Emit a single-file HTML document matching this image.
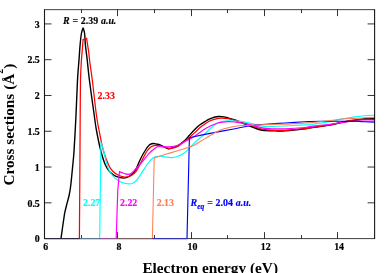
<!DOCTYPE html>
<html><head><meta charset="utf-8"><style>
html,body{margin:0;padding:0;background:#fff;}
body{width:389px;height:273px;overflow:hidden;}
svg{display:block;will-change:transform;font-family:"Liberation Serif",serif;font-weight:bold;}
.tk{font-size:9.9px;fill:#000;stroke:#000;stroke-width:0.2px;}
.lb{font-size:9.9px;word-spacing:0.35px;stroke-width:0.15px;}
.ax{font-size:15.3px;fill:#000;}
</style></head><body>
<svg width="389" height="273" viewBox="0 0 389 273">
<rect width="389" height="273" fill="#fff"/>
<path d="M61.00 238.70 L62.60 227.00 L64.60 213.40 C64.93 212.00 65.83 208.07 66.60 205.00 C67.37 201.93 68.50 198.33 69.20 195.00 C69.90 191.67 70.25 189.50 70.80 185.00 C71.35 180.50 71.95 173.83 72.50 168.00 C73.05 162.17 73.52 158.83 74.10 150.00 C74.68 141.17 75.43 126.67 76.00 115.00 C76.57 103.33 77.00 89.17 77.50 80.00 C78.00 70.83 78.57 65.83 79.00 60.00 C79.43 54.17 79.70 49.42 80.10 45.00 C80.50 40.58 80.90 36.37 81.40 33.50 C81.90 30.63 82.82 28.75 83.10 27.80 C83.35 28.75 84.22 30.63 84.60 33.50 C84.98 36.37 85.00 40.92 85.40 45.00 C85.80 49.08 86.33 52.17 87.00 58.00 C87.67 63.83 88.20 70.50 89.40 80.00 C90.60 89.50 93.03 106.67 94.20 115.00 C95.37 123.33 95.33 124.17 96.40 130.00 C97.47 135.83 99.10 144.17 100.60 150.00 C102.10 155.83 103.83 161.33 105.40 165.00 C106.97 168.67 108.23 170.12 110.00 172.00 C111.77 173.88 113.68 175.28 116.00 176.30 C118.32 177.32 121.73 178.07 123.90 178.10 C126.07 178.13 127.20 177.60 129.00 176.50 C130.80 175.40 132.78 174.42 134.70 171.50 C136.62 168.58 138.80 162.42 140.50 159.00 C142.20 155.58 143.43 153.32 144.90 151.00 C146.37 148.68 147.95 146.35 149.30 145.10 C150.65 143.85 151.72 143.65 153.00 143.50 C154.28 143.35 155.83 143.98 157.00 144.20 C158.17 144.42 158.20 144.07 160.00 144.80 C161.80 145.53 165.80 148.07 167.80 148.60 C169.80 149.13 170.32 148.50 172.00 148.00 C173.68 147.50 175.68 146.93 177.90 145.60 C180.12 144.27 183.38 141.72 185.30 140.00 C187.22 138.28 187.78 137.08 189.40 135.30 C191.02 133.52 193.28 131.02 195.00 129.30 C196.72 127.58 197.87 126.38 199.70 125.00 C201.53 123.62 204.12 122.12 206.00 121.00 C207.88 119.88 208.90 119.05 211.00 118.30 C213.10 117.55 216.27 116.70 218.60 116.50 C220.93 116.30 223.45 116.88 225.00 117.10 C226.55 117.32 226.23 117.32 227.90 117.80 C229.57 118.28 232.87 119.23 235.00 120.00 C237.13 120.77 237.60 121.15 240.70 122.40 C243.80 123.65 250.38 126.27 253.60 127.50 C256.82 128.73 258.10 129.30 260.00 129.80 C261.90 130.30 262.43 130.32 265.00 130.50 C267.57 130.68 272.07 130.85 275.40 130.90 C278.73 130.95 280.07 131.15 285.00 130.80 C289.93 130.45 300.83 129.28 305.00 128.80 C309.17 128.32 305.83 128.53 310.00 127.90 C314.17 127.27 325.00 125.85 330.00 125.00 C335.00 124.15 335.83 123.60 340.00 122.80 C344.17 122.00 350.83 120.87 355.00 120.20 C359.17 119.53 361.73 119.10 365.00 118.80 C368.27 118.50 373.00 118.47 374.60 118.40" fill="none" stroke="#000" stroke-width="1.4" stroke-linejoin="miter" stroke-miterlimit="3"/>
<path d="M79.40 238.70 L80.00 150.00 C80.03 144.17 80.12 126.67 80.20 115.00 C80.28 103.33 80.32 88.83 80.50 80.00 C80.68 71.17 81.03 66.67 81.30 62.00 C81.57 57.33 81.97 53.67 82.10 52.00 L83.10 39.50 L86.60 38.40 L88.70 52.00 C88.88 53.67 89.20 57.33 89.80 62.00 C90.40 66.67 91.20 71.17 92.30 80.00 C93.40 88.83 95.28 106.67 96.40 115.00 C97.52 123.33 97.87 124.17 99.00 130.00 C100.13 135.83 101.60 144.17 103.20 150.00 C104.80 155.83 106.97 161.42 108.60 165.00 C110.23 168.58 111.27 169.75 113.00 171.50 C114.73 173.25 116.97 174.57 119.00 175.50 C121.03 176.43 123.28 177.05 125.20 177.10 C127.12 177.15 128.68 176.73 130.50 175.80 C132.32 174.87 134.07 174.30 136.10 171.50 C138.13 168.70 140.87 162.42 142.70 159.00 C144.53 155.58 145.63 153.07 147.10 151.00 C148.57 148.93 150.12 147.55 151.50 146.60 C152.88 145.65 153.98 145.43 155.40 145.30 C156.82 145.17 157.73 145.30 160.00 145.80 C162.27 146.30 166.67 147.97 169.00 148.30 C171.33 148.63 172.33 148.25 174.00 147.80 C175.67 147.35 176.92 146.90 179.00 145.60 C181.08 144.30 184.58 141.52 186.50 140.00 C188.42 138.48 189.08 137.77 190.50 136.50 C191.92 135.23 193.30 133.98 195.00 132.40 C196.70 130.82 198.87 128.53 200.70 127.00 C202.53 125.47 204.28 124.30 206.00 123.20 C207.72 122.10 209.33 121.13 211.00 120.40 C212.67 119.67 214.37 119.17 216.00 118.80 C217.63 118.43 218.82 118.23 220.80 118.20 C222.78 118.17 225.53 118.27 227.90 118.60 C230.27 118.93 232.87 119.65 235.00 120.20 C237.13 120.75 237.60 120.90 240.70 121.90 C243.80 122.90 250.05 124.98 253.60 126.20 C257.15 127.42 258.37 128.50 262.00 129.20 C265.63 129.90 271.57 130.22 275.40 130.40 C279.23 130.58 280.07 130.58 285.00 130.30 C289.93 130.02 300.83 129.12 305.00 128.70 C309.17 128.28 305.83 128.42 310.00 127.80 C314.17 127.18 325.00 125.85 330.00 125.00 C335.00 124.15 336.67 123.43 340.00 122.70 C343.33 121.97 347.17 121.08 350.00 120.60 C352.83 120.12 354.50 119.98 357.00 119.80 C359.50 119.62 362.07 119.55 365.00 119.50 C367.93 119.45 373.00 119.50 374.60 119.50" fill="none" stroke="#f00" stroke-width="1.25" stroke-linejoin="miter" stroke-miterlimit="3"/>
<path d="M99.70 238.70 L100.90 142.20 C101.42 143.83 102.98 148.20 104.00 152.00 C105.02 155.80 105.83 161.42 107.00 165.00 C108.17 168.58 109.50 171.17 111.00 173.50 C112.50 175.83 114.17 177.50 116.00 179.00 C117.83 180.50 119.82 181.68 122.00 182.50 C124.18 183.32 127.27 183.82 129.10 183.90 C130.93 183.98 131.72 183.65 133.00 183.00 C134.28 182.35 135.47 181.50 136.80 180.00 C138.13 178.50 139.65 176.03 141.00 174.00 C142.35 171.97 143.27 170.17 144.90 167.80 C146.53 165.43 149.08 161.63 150.80 159.80 C152.52 157.97 153.67 157.40 155.20 156.80 C156.73 156.20 158.37 156.20 160.00 156.20 C161.63 156.20 163.10 156.57 165.00 156.80 C166.90 157.03 169.23 157.70 171.40 157.60 C173.57 157.50 175.73 157.05 178.00 156.20 C180.27 155.35 183.00 153.95 185.00 152.50 C187.00 151.05 188.33 149.17 190.00 147.50 C191.67 145.83 192.80 144.53 195.00 142.50 C197.20 140.47 200.45 137.80 203.20 135.30 C205.95 132.80 209.20 129.52 211.50 127.50 C213.80 125.48 215.17 124.25 217.00 123.20 C218.83 122.15 220.67 121.60 222.50 121.20 C224.33 120.80 226.08 120.83 228.00 120.80 C229.92 120.77 231.88 120.90 234.00 121.00 C236.12 121.10 237.43 120.90 240.70 121.40 C243.97 121.90 250.05 123.22 253.60 124.00 C257.15 124.78 258.93 125.70 262.00 126.10 C265.07 126.50 268.17 126.42 272.00 126.40 C275.83 126.38 279.50 126.25 285.00 126.00 C290.50 125.75 300.83 125.13 305.00 124.90 C309.17 124.67 305.83 125.15 310.00 124.60 C314.17 124.05 325.00 122.47 330.00 121.60 C335.00 120.73 335.83 120.18 340.00 119.40 C344.17 118.62 350.83 117.52 355.00 116.90 C359.17 116.28 361.73 116.00 365.00 115.70 C368.27 115.40 373.00 115.20 374.60 115.10" fill="none" stroke="#0ff" stroke-width="1.15" stroke-linejoin="miter" stroke-miterlimit="3"/>
<path d="M116.20 238.70 L117.80 190.00 L119.50 171.70 C119.92 171.85 121.08 172.27 122.00 172.60 C122.92 172.93 124.00 173.40 125.00 173.70 C126.00 174.00 127.00 174.42 128.00 174.40 C129.00 174.38 129.88 174.33 131.00 173.60 C132.12 172.87 132.87 171.93 134.70 170.00 C136.53 168.07 139.57 164.80 142.00 162.00 C144.43 159.20 147.10 155.52 149.30 153.20 C151.50 150.88 153.83 149.17 155.20 148.10 C156.57 147.03 156.70 147.07 157.50 146.80 C158.30 146.53 158.75 146.50 160.00 146.50 C161.25 146.50 163.00 146.77 165.00 146.80 C167.00 146.83 169.83 146.95 172.00 146.70 C174.17 146.45 175.83 146.18 178.00 145.30 C180.17 144.42 183.35 142.28 185.00 141.40 C186.65 140.52 186.23 140.92 187.90 140.00 C189.57 139.08 191.98 137.87 195.00 135.90 C198.02 133.93 202.33 130.32 206.00 128.20 C209.67 126.08 214.25 124.20 217.00 123.20 C219.75 122.20 220.67 122.45 222.50 122.20 C224.33 121.95 225.92 121.73 228.00 121.70 C230.08 121.67 232.88 121.82 235.00 122.00 C237.12 122.18 237.60 122.20 240.70 122.80 C243.80 123.40 250.05 124.77 253.60 125.60 C257.15 126.43 258.93 127.27 262.00 127.80 C265.07 128.33 268.17 128.63 272.00 128.80 C275.83 128.97 279.50 129.02 285.00 128.80 C290.50 128.58 300.83 127.87 305.00 127.50 C309.17 127.13 305.83 127.12 310.00 126.60 C314.17 126.08 325.00 125.05 330.00 124.40 C335.00 123.75 336.67 123.18 340.00 122.70 C343.33 122.22 346.67 121.78 350.00 121.50 C353.33 121.22 355.90 121.07 360.00 121.00 C364.10 120.93 372.17 121.08 374.60 121.10" fill="none" stroke="#f0f" stroke-width="1.2" stroke-linejoin="miter" stroke-miterlimit="3"/>
<path d="M187.00 238.70 L189.40 138.00 C190.33 137.75 191.32 137.32 195.00 136.50 C198.68 135.68 204.83 134.40 211.50 133.10 C218.17 131.80 230.13 129.63 235.00 128.70 C239.87 127.77 237.60 128.07 240.70 127.50 C243.80 126.93 250.05 125.80 253.60 125.30 C257.15 124.80 258.43 124.78 262.00 124.50 C265.57 124.22 271.17 123.85 275.00 123.60 C278.83 123.35 280.00 123.30 285.00 123.00 C290.00 122.70 300.83 122.03 305.00 121.80 C309.17 121.57 305.83 121.68 310.00 121.60 C314.17 121.52 324.17 121.35 330.00 121.30 C335.83 121.25 340.50 121.30 345.00 121.30 C349.50 121.30 353.67 121.22 357.00 121.30 C360.33 121.38 362.07 121.65 365.00 121.80 C367.93 121.95 373.00 122.13 374.60 122.20" fill="none" stroke="#00f" stroke-width="1.15" stroke-linejoin="miter" stroke-miterlimit="3"/>
<path d="M152.40 238.70 L154.20 157.90 C155.17 157.58 158.20 156.57 160.00 156.00 C161.80 155.43 162.50 155.23 165.00 154.50 C167.50 153.77 171.67 152.58 175.00 151.60 C178.33 150.62 182.50 149.40 185.00 148.60 C187.50 147.80 188.33 147.45 190.00 146.80 C191.67 146.15 192.50 146.07 195.00 144.70 C197.50 143.33 201.43 140.72 205.00 138.60 C208.57 136.48 213.07 133.67 216.40 132.00 C219.73 130.33 221.90 129.57 225.00 128.60 C228.10 127.63 232.38 126.70 235.00 126.20 C237.62 125.70 237.95 125.75 240.70 125.60 C243.45 125.45 247.95 125.45 251.50 125.30 C255.05 125.15 258.08 124.87 262.00 124.70 C265.92 124.53 271.17 124.38 275.00 124.30 C278.83 124.22 280.00 124.40 285.00 124.20 C290.00 124.00 300.83 123.33 305.00 123.10 C309.17 122.87 305.83 123.22 310.00 122.80 C314.17 122.38 324.17 121.27 330.00 120.60 C335.83 119.93 340.83 119.17 345.00 118.80 C349.17 118.43 351.67 118.57 355.00 118.40 C358.33 118.23 361.73 117.98 365.00 117.80 C368.27 117.62 373.00 117.38 374.60 117.30" fill="none" stroke="#ff7f50" stroke-width="1.05" stroke-linejoin="miter" stroke-miterlimit="3"/>

<g stroke="#000" stroke-width="0.8" fill="none"><line x1="81.50" y1="238.60" x2="81.50" y2="235.10"/><line x1="81.50" y1="9.60" x2="81.50" y2="13.10"/><line x1="117.50" y1="238.60" x2="117.50" y2="232.10"/><line x1="117.50" y1="9.60" x2="117.50" y2="16.10"/><line x1="154.50" y1="238.60" x2="154.50" y2="235.10"/><line x1="154.50" y1="9.60" x2="154.50" y2="13.10"/><line x1="191.50" y1="238.60" x2="191.50" y2="232.10"/><line x1="191.50" y1="9.60" x2="191.50" y2="16.10"/><line x1="227.50" y1="238.60" x2="227.50" y2="235.10"/><line x1="227.50" y1="9.60" x2="227.50" y2="13.10"/><line x1="264.50" y1="238.60" x2="264.50" y2="232.10"/><line x1="264.50" y1="9.60" x2="264.50" y2="16.10"/><line x1="301.50" y1="238.60" x2="301.50" y2="235.10"/><line x1="301.50" y1="9.60" x2="301.50" y2="13.10"/><line x1="337.50" y1="238.60" x2="337.50" y2="232.10"/><line x1="337.50" y1="9.60" x2="337.50" y2="16.10"/><line x1="44.50" y1="202.82" x2="51.50" y2="202.82"/><line x1="374.60" y1="202.82" x2="367.60" y2="202.82"/><line x1="44.50" y1="167.04" x2="51.50" y2="167.04"/><line x1="374.60" y1="167.04" x2="367.60" y2="167.04"/><line x1="44.50" y1="131.26" x2="51.50" y2="131.26"/><line x1="374.60" y1="131.26" x2="367.60" y2="131.26"/><line x1="44.50" y1="95.47" x2="51.50" y2="95.47"/><line x1="374.60" y1="95.47" x2="367.60" y2="95.47"/><line x1="44.50" y1="59.69" x2="51.50" y2="59.69"/><line x1="374.60" y1="59.69" x2="367.60" y2="59.69"/><line x1="44.50" y1="23.91" x2="51.50" y2="23.91"/><line x1="374.60" y1="23.91" x2="367.60" y2="23.91"/></g>
<path d="M44.5 9.2V239.1M374.6 9.2V239.1" fill="none" stroke="#000" stroke-width="1.1" opacity="0.9"/><path d="M44.5 9.65H374.6M44.5 238.6H374.6" fill="none" stroke="#000" stroke-width="0.95" opacity="0.8"/>
<g stroke-width="1" fill="none"><path d="M44.5 238.7H79.6" stroke="#2b1f3d"/><path d="M79.6 238.7H99.8" stroke="#5f7f9f"/><path d="M99.8 238.7H116.3" stroke="#a04fa8"/><path d="M116.3 238.7H152.5" stroke="#85655f"/><path d="M152.5 238.7H187.2" stroke="#2c2cc8"/></g>
<text x="45.70" y="249.7" text-anchor="middle" class="tk">6</text><text x="119.06" y="249.7" text-anchor="middle" class="tk">8</text><text x="192.41" y="249.7" text-anchor="middle" class="tk">10</text><text x="265.77" y="249.7" text-anchor="middle" class="tk">12</text><text x="339.12" y="249.7" text-anchor="middle" class="tk">14</text><text x="39.8" y="242.30" text-anchor="end" class="tk">0</text><text x="39.8" y="206.52" text-anchor="end" class="tk">0.5</text><text x="39.8" y="170.74" text-anchor="end" class="tk">1</text><text x="39.8" y="134.96" text-anchor="end" class="tk">1.5</text><text x="39.8" y="99.17" text-anchor="end" class="tk">2</text><text x="39.8" y="63.39" text-anchor="end" class="tk">2.5</text><text x="39.8" y="27.61" text-anchor="end" class="tk">3</text>
<text x="63" y="23.7" class="lb" fill="#000" stroke="#000"><tspan font-style="italic">R</tspan> = 2.39 <tspan font-style="italic">a.u.</tspan></text>
<text x="97.6" y="99.0" class="lb" fill="#f00" stroke="#f00">2.33</text>
<text x="83.0" y="206.2" class="lb" fill="#0ff" stroke="#0ff">2.27</text>
<text x="120" y="206.2" class="lb" fill="#f0f" stroke="#f0f">2.22</text>
<text x="156.7" y="206.2" class="lb" fill="#ff7f50" stroke="#ff7f50">2.13</text>
<text x="190.6" y="206.1" class="lb" fill="#00f" stroke="#00f"><tspan font-style="italic">R</tspan><tspan font-style="italic" font-size="7.6px" dy="3.2">eq</tspan><tspan dy="-3.2"> = 2.04 </tspan><tspan font-style="italic">a.u.</tspan></text>
<text x="210.2" y="272.5" text-anchor="middle" class="ax">Electron energy (eV)</text>
<text transform="translate(13.9,124.6) rotate(-90)" text-anchor="middle" class="ax">Cross sections (Å<tspan font-size="10px" dy="-10.5">2</tspan><tspan dy="10.5">)</tspan></text>
</svg>
</body></html>
